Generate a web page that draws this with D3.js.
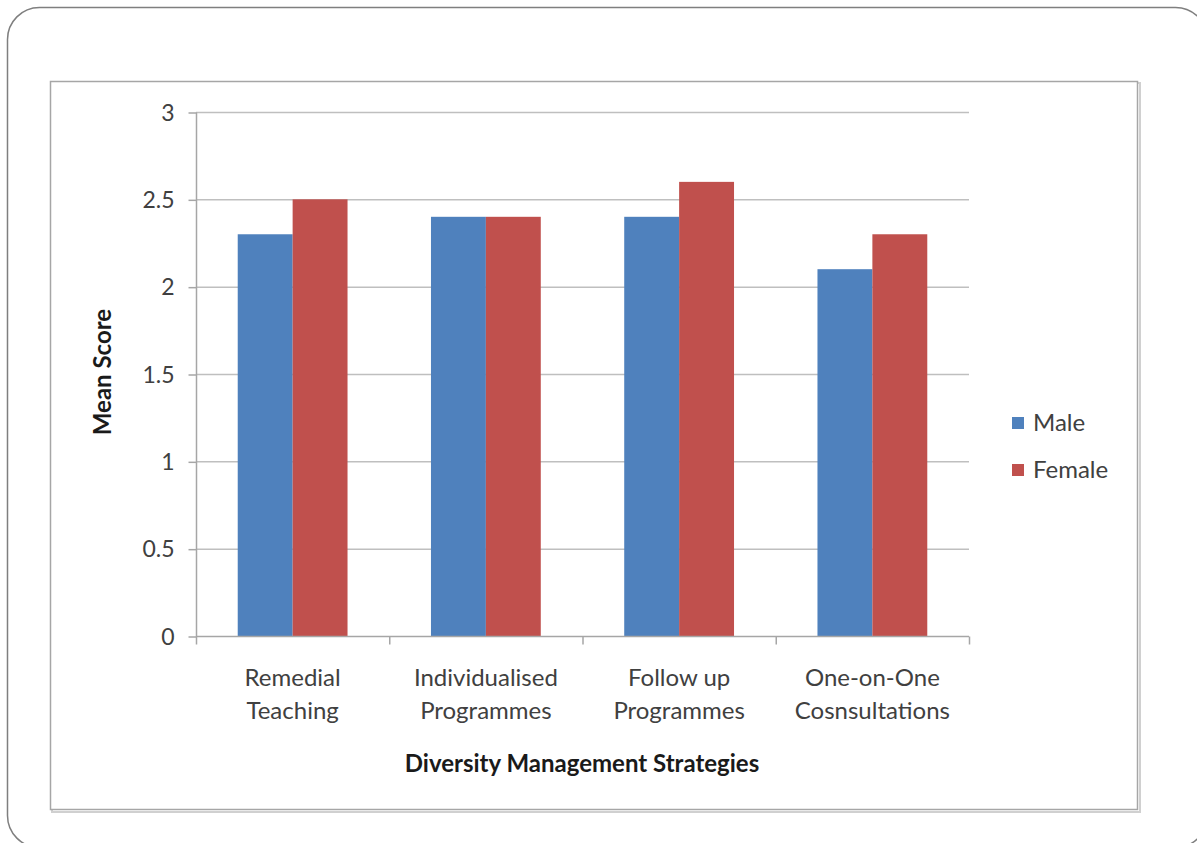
<!DOCTYPE html>
<html><head><meta charset="utf-8">
<script src="https://cdn.jsdelivr.net/npm/d3@7"></script>
<style>body{margin:0;background:#fff;}svg{display:block;font-family:Lato,"Open Sans",sans-serif;}</style>
</head><body>
<script>
const categories = [["Remedial","Teaching"],["Individualised","Programmes"],["Follow up","Programmes"],["One-on-One","Cosnsultations"]];
const seriesNames = ["Male","Female"];
const maleValues = [2.3, 2.4, 2.4, 2.1];
const femaleValues = [2.5, 2.4, 2.6, 2.3];
const yTicks = [0, 0.5, 1, 1.5, 2, 2.5, 3];
const colors = ["#4F81BD", "#C0504D"];

const W = 1197, H = 843;
const svg = d3.select("body").append("svg").attr("width", W).attr("height", H);

// outer rounded frame
svg.append("rect").attr("x", 7.5).attr("y", 7.5).attr("width", 1200).attr("height", 840)
  .attr("rx", 32).attr("fill", "none").attr("stroke", "#7f7f7f").attr("stroke-width", 1.5);

// chart frame with shadow
svg.append("rect").attr("x", 52).attr("y", 83).attr("width", 1088).attr("height", 729)
  .attr("fill", "none").attr("stroke", "#d0d0d0").attr("stroke-width", 2);
svg.append("rect").attr("x", 50.5).attr("y", 81.5).attr("width", 1087).attr("height", 728)
  .attr("fill", "#fff").attr("stroke", "#a6a6a6").attr("stroke-width", 1.5);

const x0 = 196, x1 = 969, yTop = 112, yBot = 636;
const x = d3.scaleBand().domain(d3.range(categories.length)).range([x0, x1]).paddingInner(0).paddingOuter(0);
const y = d3.scaleLinear().domain([0, 3]).range([yBot, yTop]);

// gridlines
const g = svg.append("g");
g.selectAll("line.grid").data(yTicks.filter(d => d > 0)).join("line")
  .attr("x1", x0).attr("x2", x1).attr("y1", d => y(d) + 0.5).attr("y2", d => y(d) + 0.5)
  .attr("stroke", "#bfbfbf").attr("stroke-width", 1.5);

// y axis
const yAxis = d3.axisLeft(y).tickValues(yTicks).tickSize(8).tickFormat(d3.format("~g")).tickPadding(14);
const ya = svg.append("g").attr("transform", `translate(${x0 + 0.5},0.5)`).call(yAxis);
ya.select(".domain").attr("stroke", "#a6a6a6").attr("stroke-width", 1.5).attr("d", `M0,${yTop}V${yBot}`);
ya.selectAll(".tick line").attr("stroke", "#a6a6a6").attr("stroke-width", 1.5);
ya.selectAll(".tick text").attr("font-size", 23).attr("fill", "#404040").attr("font-family", "Lato,sans-serif").attr("dy", "0.34em");

// bars
const inner = d3.scaleBand().domain([0, 1]).range([0, x.bandwidth()]).paddingOuter(0.76).paddingInner(0);
const data = categories.map((c, i) => [maleValues[i], femaleValues[i]]);
const groups = svg.append("g").selectAll("g").data(data).join("g")
  .attr("transform", (d, i) => `translate(${x(i)},0)`);
groups.selectAll("rect").data(d => d).join("rect")
  .attr("x", (d, j) => inner(j)).attr("width", inner.bandwidth())
  .attr("y", d => y(d)).attr("height", d => y(0) - y(d))
  .attr("fill", (d, j) => colors[j]);

// x axis
const xa = svg.append("g").attr("transform", `translate(0,${yBot + 0.5})`);
xa.append("line").attr("x1", x0).attr("x2", x1).attr("stroke", "#a6a6a6").attr("stroke-width", 1.5);
xa.selectAll("line.t").data(d3.range(categories.length + 1)).join("line")
  .attr("x1", i => x0 + i * x.bandwidth() + 0.5).attr("x2", i => x0 + i * x.bandwidth() + 0.5)
  .attr("y1", 0).attr("y2", 8).attr("stroke", "#a6a6a6").attr("stroke-width", 1.5);
const labels = svg.append("g").selectAll("text").data(categories).join("text")
  .attr("x", (d, i) => x(i) + x.bandwidth() / 2).attr("y", 686)
  .attr("text-anchor", "middle").attr("font-size", 24).attr("fill", "#404040");
labels.selectAll("tspan").data(d => d).join("tspan")
  .attr("x", function() { return d3.select(this.parentNode).attr("x"); })
  .attr("dy", (d, k) => k === 0 ? 0 : 33).text(d => d);

// axis titles
svg.append("text").attr("x", 582).attr("y", 772).attr("text-anchor", "middle")
  .attr("font-size", 24).attr("font-weight", "bold").attr("fill", "#1a1a1a").text("Diversity Management Strategies");
svg.append("text").attr("transform", "translate(111,372) rotate(-90)").attr("text-anchor", "middle")
  .attr("font-size", 24).attr("font-weight", "bold").attr("fill", "#1a1a1a").text("Mean Score");

// legend
const lg = svg.append("g").selectAll("g").data(seriesNames).join("g")
  .attr("transform", (d, i) => `translate(1012,${417 + i * 47})`);
lg.append("rect").attr("width", 12).attr("height", 12).attr("fill", (d, i) => colors[i]);
lg.append("text").attr("x", 21).attr("y", 14).attr("font-size", 24).attr("fill", "#404040").text(d => d);
</script>
</body></html>
